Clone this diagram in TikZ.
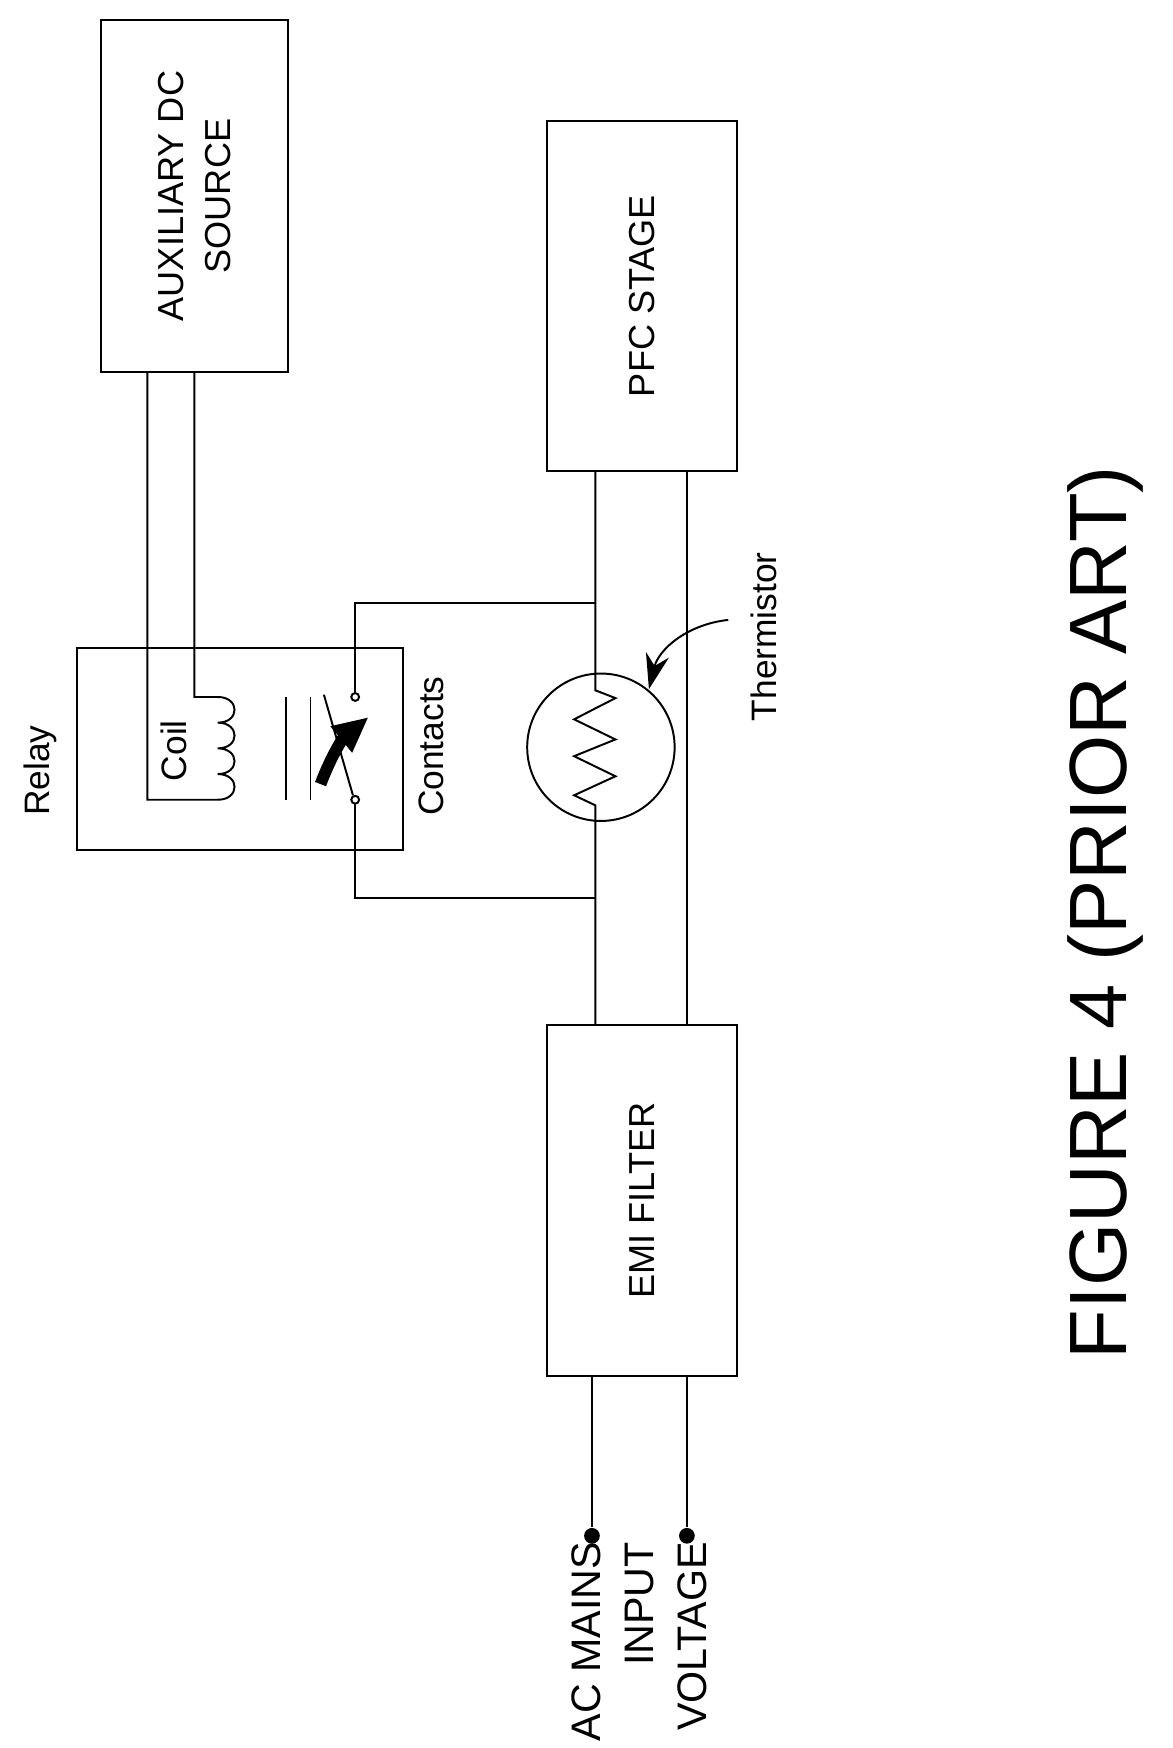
\documentclass[tikz,border=0pt]{standalone}
\usepackage{fontspec}
\setmainfont{Liberation Sans}
\usetikzlibrary{arrows.meta,calc}
\begin{document}
\begin{tikzpicture}[x=0.01cm,y=-0.01cm,line width=0.5pt,
  rtext/.style={rotate=90,font=\fontsize{9.2}{12}\selectfont,align=center},
  dot/.style={circle,fill,inner sep=0pt,minimum size=4pt}]
  \useasboundingbox (0,0) rectangle (1050,1565);
  % Blocks
  \draw (90,18) coordinate (aux1) rectangle (258,333) coordinate (aux2);
  \node[rtext] (aux) at ($(aux1)!0.5!(aux2)$) {AUXILIARY DC\\SOURCE};
  \draw (490,108) coordinate (pfc1) rectangle (660,422) coordinate (pfc2);
  \node[rtext] (pfc) at ($(pfc1)!0.5!(pfc2)$) {PFC STAGE};
  \draw (490,918) coordinate (emi1) rectangle (660,1232) coordinate (emi2);
  \node[rtext] (emi) at ($(emi1)!0.5!(emi2)$) {EMI FILTER};
  \draw (69,580) rectangle (361,761);
  \node[rtext,font=\fontsize{9}{11}\selectfont] (relay) at (36,690) {Relay};
  \node[rtext,font=\fontsize{9}{11}\selectfont] (contacts) at (386,668) {Contacts};
  % Coil
  \draw (132,333) -- (132,716) -- (195,716)
    .. controls (215,716) and (215,693) .. (195,693)
    .. controls (215,693) and (215,670) .. (195,670)
    .. controls (215,670) and (215,647) .. (195,647)
    .. controls (215,647) and (215,624) .. (195,624)
    -- (174,624) -- (174,333);
  \node[rtext,font=\fontsize{9}{11}\selectfont] (coil) at (156,672) {Coil};
  \draw (256,624) -- (256,716) (278,624) -- (278,716);
  % Contacts
  \draw (318,624) circle (3.5) (318,716) circle (3.5);
  \draw (318,620.5) -- (318,540) -- (533,540);
  \draw (318,719.5) -- (318,804) -- (533,804);
  \draw (316,712) -- (290,622);
  \draw[line width=3pt,-{Triangle[length=9pt,width=8pt]}] (287,702) to[bend left=15] (330,642);
  % Thermistor and lines
  \draw (538,669) circle (66);
  \draw (533,422) -- (533,618) -- (551,625) -- (514,644) -- (551,662) -- (514,677)
    -- (551,695) -- (514,712) -- (533,721) -- (533,918);
  \draw (615,422) -- (615,918);
  \draw[-{Stealth[length=9pt,width=6pt]}] (652,555) to[bend right=35] (581,617);
  \node[rtext,font=\fontsize{9}{11}\selectfont] (therm) at (684,570) {Thermistor};
  % Inputs
  \node[dot] (ac1) at (530,1375) {};
  \node[dot] (ac2) at (615,1375) {};
  \draw (ac1) -- (530,1232) (ac2) -- (615,1232);
  \node[rtext,anchor=east,align=right,font=\fontsize{10.5}{13.5}\selectfont] (acin) at (572,1368) {AC MAINS\\INPUT\\VOLTAGE};
  \node[rotate=90,font=\fontsize{20.7}{26}\selectfont] (fig) at (990,817) {FIGURE 4 (PRIOR ART)};
\end{tikzpicture}
\end{document}
